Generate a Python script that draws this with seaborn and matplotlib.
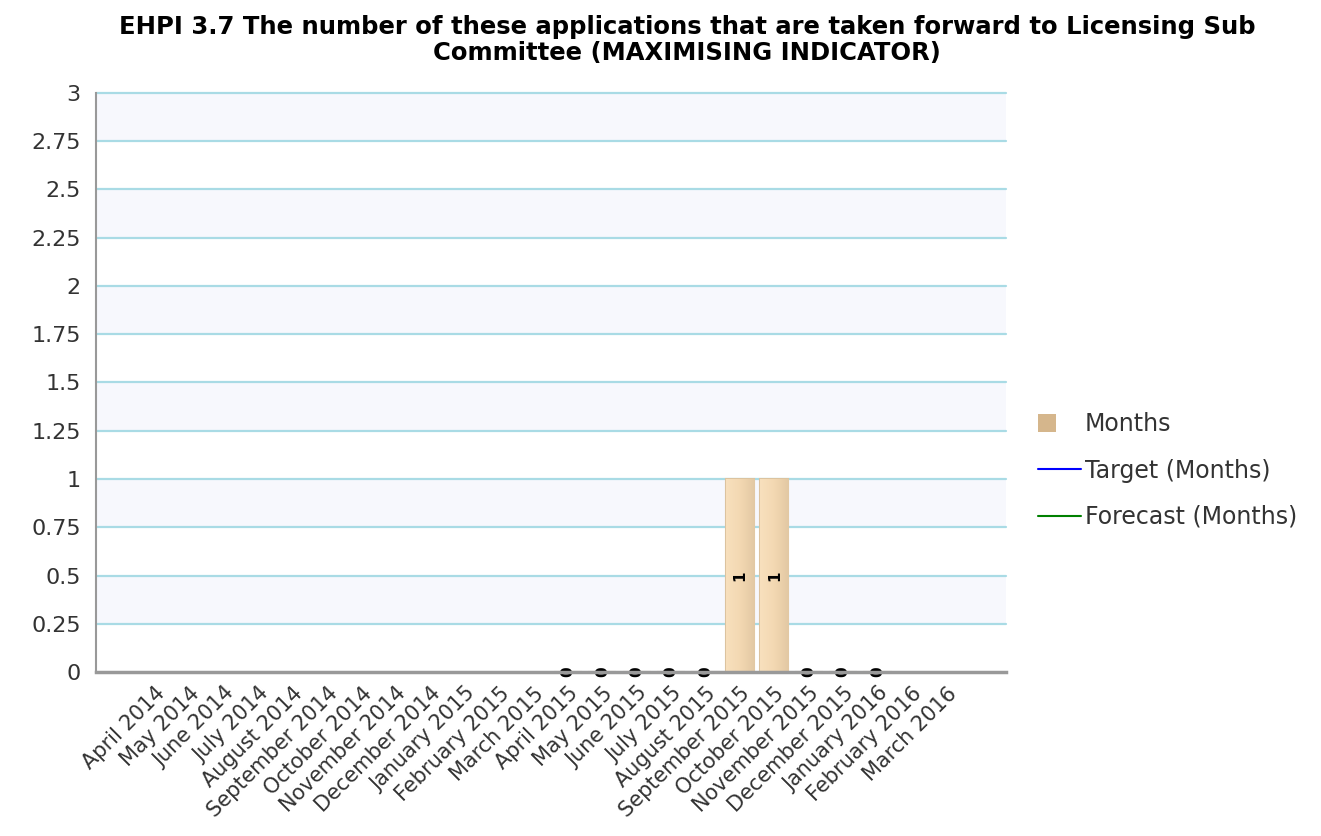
import numpy as np
import pandas as pd
import seaborn as sb
from matplotlib import pyplot as plt
from matplotlib.patches import Patch, Rectangle
from matplotlib.lines import Line2D
from matplotlib.legend_handler import HandlerPatch
from matplotlib.colors import LinearSegmentedColormap

months = ['April 2014', 'May 2014', 'June 2014', 'July 2014', 'August 2014',
          'September 2014', 'October 2014', 'November 2014', 'December 2014',
          'January 2015', 'February 2015', 'March 2015', 'April 2015', 'May 2015',
          'June 2015', 'July 2015', 'August 2015', 'September 2015', 'October 2015',
          'November 2015', 'December 2015', 'January 2016', 'February 2016', 'March 2016']
# None = no data for that month
values = [None] * 12 + [0, 0, 0, 0, 0, 1, 1, 0, 0, 0] + [None, None]
target = [None] * 24
forecast = [None] * 24
yticks = [0, 0.25, 0.5, 0.75, 1, 1.25, 1.5, 1.75, 2, 2.25, 2.5, 2.75, 3]

title = ('EHPI 3.7 The number of these applications that are taken forward to Licensing Sub\n'
         'Committee (MAXIMISING INDICATOR)')

df = pd.DataFrame({'month': months, 'value': values}).dropna()

sb.set_style('white')
plt.rcParams['font.family'] = ['DejaVu Sans']

fig = plt.figure(figsize=(13.21, 8.36), dpi=100)
ax = fig.add_axes([0.0727, 0.196, 0.6885, 0.693])

# alternating bands + grid lines
for i in range(len(yticks) - 1):
    if i % 2 == 1:
        ax.axhspan(yticks[i], yticks[i + 1], color='#f7f8fd', zorder=0, lw=0)
for t in yticks[1:]:
    ax.axhline(t, color='#a9dbe5', lw=1.6, zorder=1, clip_on=False)

sb.barplot(data=df, x='month', y='value', order=months, color='#f1d6b0',
           width=0.82, edgecolor='#dcc39f', linewidth=1.5, saturation=1,
           errorbar=None, zorder=2, ax=ax)

# horizontal gradient inside the bars (light left, darker right)
grad = LinearSegmentedColormap.from_list('tan', ['#f8e0bd', '#f3d8b2', '#e2c8a3'])
for cont in ax.containers:
    for p in cont.patches:
        x0, y0 = p.get_x(), p.get_y()
        w, h = p.get_width(), p.get_height()
        if h <= 0:
            continue
        im = ax.imshow(np.linspace(0, 1, 64).reshape(1, -1), cmap=grad, aspect='auto',
                       extent=[x0, x0 + w, y0, y0 + h], zorder=2.5, interpolation='bilinear')
        im.set_clip_path(p)
    ax.bar_label(cont, fmt='%g', label_type='center', rotation=90,
                 fontsize=11, fontweight='bold', color='black', zorder=4)

xs = np.arange(len(months))
ax.plot(xs, [np.nan if v is None else v for v in target], color='#0000ff')
ax.plot(xs, [np.nan if v is None else v for v in forecast], color='#008000')

ax.set_xlim(-1.72, len(months) - 1 + 1.72)
ax.set_ylim(0, 3)
ax.set_yticks(yticks)
ax.set_yticklabels(['%g' % t for t in yticks])
ax.set_xticks(xs)
ax.set_xticklabels(months, rotation=45, ha='right', rotation_mode='anchor')
ax.set_xlabel('')
ax.set_ylabel('')

for s in ['top', 'right']:
    ax.spines[s].set_visible(False)
ax.spines['left'].set_color('#999999')
ax.spines['left'].set_linewidth(1.5)
ax.spines['bottom'].set_color('#999999')
ax.spines['bottom'].set_linewidth(2.5)
ax.spines['bottom'].set_zorder(5)
ax.tick_params(axis='both', which='both', direction='out', length=5, width=1.2,
               color='#999999', labelcolor='#333333')
ax.tick_params(axis='y', labelsize=16, pad=6)
ax.tick_params(axis='x', labelsize=15, pad=3)


def square_patch(legend, orig_handle, xdescent, ydescent, width, height, fontsize):
    s = height * 1.1
    return Rectangle((-xdescent, -ydescent + (height - s) / 2), s, s)


handles = [Patch(facecolor='#d5b68c', edgecolor='none'),
           Line2D([], [], color='#0000ff', lw=1.5),
           Line2D([], [], color='#008000', lw=1.5)]
ax.legend(handles, ['Months', 'Target (Months)', 'Forecast (Months)'],
          loc='center left', bbox_to_anchor=(1.012, 0.348), frameon=False,
          fontsize=17, handlelength=1.85, handletextpad=0.15,
          labelspacing=0.95, labelcolor='#333333',
          handler_map={Patch: HandlerPatch(patch_func=square_patch)})

fig.suptitle(title, x=0.52, y=0.982, fontsize=17.5, fontweight='bold',
             linespacing=1.12, color='black')

plt.savefig('out.png', dpi=100, facecolor='white')
